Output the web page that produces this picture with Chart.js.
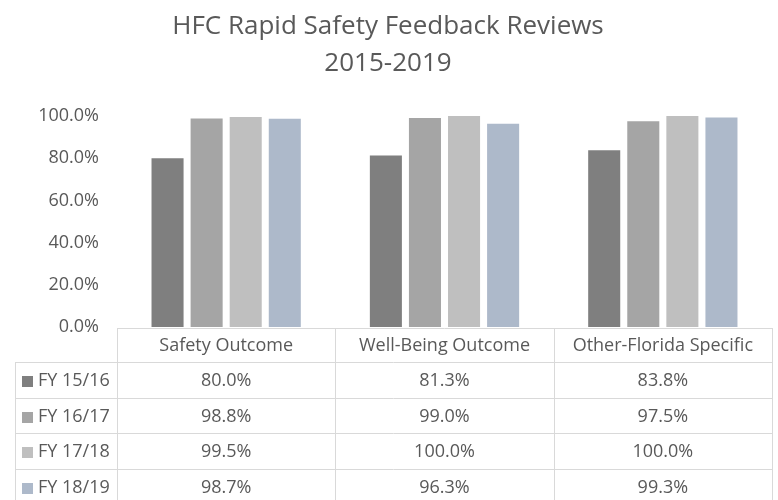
<!DOCTYPE html>
<html>
<head>
<meta charset="utf-8">
<script src="https://cdn.jsdelivr.net/npm/chart.js@4.4.1/dist/chart.umd.min.js"></script>
<style>
  html, body { margin: 0; padding: 0; background: #fff; }
  #wrap { width: 778px; height: 500px; position: relative; }
</style>
</head>
<body>
<div id="wrap"><canvas id="rsfChart" width="778" height="500"></canvas></div>
<script>
// chart data
const titleLines = ["HFC Rapid Safety Feedback Reviews", "2015-2019"];
const categories = ["Safety Outcome", "Well-Being Outcome", "Other-Florida Specific"];
const seriesNames = ["FY 15/16", "FY 16/17", "FY 17/18", "FY 18/19"];
const fy1516 = [80.0, 81.3, 83.8];
const fy1617 = [98.8, 99.0, 97.5];
const fy1718 = [99.5, 100.0, 100.0];
const fy1819 = [98.7, 96.3, 99.3];
const yTicks = [0, 20, 40, 60, 80, 100];

const seriesValues = [fy1516, fy1617, fy1718, fy1819];
const seriesColors = ["#7f7f7f", "#a5a5a5", "#bfbfbf", "#adb9ca"];
const textColor = "#595959";
const lineColor = "#d9d9d9";
const fontFamily = "'Open Sans', 'Noto Sans', sans-serif";

// title + data table under the plot
const tablePlugin = {
  id: "dataTable",
  afterDraw(chart) {
    const ctx = chart.ctx;
    const area = chart.chartArea;
    const xs = chart.scales.x;
    const top = area.bottom + 1;
    const headerH = 34;
    const rowH = 35.7;
    const legendLeft = 15;
    const left = area.left;
    const right = area.right;
    const colW = (right - left) / categories.length;

    ctx.save();

    // title
    ctx.fillStyle = textColor;
    ctx.textAlign = "center";
    ctx.textBaseline = "middle";
    ctx.font = "26px " + fontFamily;
    const cx = chart.width / 2 - 1;
    ctx.fillText(titleLines[0], cx, 27);
    ctx.fillText(titleLines[1], cx, 64);

    // grid lines
    ctx.strokeStyle = lineColor;
    ctx.lineWidth = 1;
    ctx.beginPath();
    ctx.moveTo(left, top + 0.5);
    ctx.lineTo(right, top + 0.5);
    for (let r = 0; r <= seriesNames.length; r++) {
      const y = Math.round(top + headerH + r * rowH) + 0.5;
      ctx.moveTo(legendLeft, y);
      ctx.lineTo(right, y);
    }
    const bottom = top + headerH + seriesNames.length * rowH;
    ctx.moveTo(legendLeft + 0.5, top + headerH);
    ctx.lineTo(legendLeft + 0.5, bottom);
    for (let c = 0; c <= categories.length; c++) {
      const x = Math.round(left + c * colW) + 0.5;
      ctx.moveTo(x, top);
      ctx.lineTo(x, bottom);
    }
    ctx.stroke();

    // header labels
    ctx.font = "18px " + fontFamily;
    ctx.fillStyle = textColor;
    ctx.textAlign = "center";
    categories.forEach((cat, i) => {
      ctx.fillText(cat, xs.getPixelForValue(i), top + headerH / 2 + 1);
    });

    // rows
    seriesNames.forEach((name, r) => {
      const yMid = top + headerH + r * rowH + rowH / 2 + 1;
      ctx.fillStyle = seriesColors[r];
      ctx.fillRect(legendLeft + 7, Math.round(yMid - 5), 11, 11);
      ctx.fillStyle = textColor;
      ctx.textAlign = "left";
      ctx.fillText(name, legendLeft + 23, yMid);
      ctx.textAlign = "center";
      seriesValues[r].forEach((v, i) => {
        ctx.fillText(v.toFixed(1) + "%", xs.getPixelForValue(i), yMid);
      });
    });

    ctx.restore();
  }
};

new Chart(document.getElementById("rsfChart"), {
  type: "bar",
  data: {
    labels: categories,
    datasets: seriesNames.map((name, i) => ({
      label: name,
      data: seriesValues[i],
      backgroundColor: seriesColors[i],
      borderWidth: 0,
      categoryPercentage: 0.716,
      barPercentage: 0.82,
    })),
  },
  options: {
    responsive: false,
    devicePixelRatio: 1,
    animation: false,
    layout: { padding: { left: 0, right: 6, top: 116, bottom: 173 } },
    plugins: {
      legend: { display: false },
      title: { display: false },
      tooltip: { enabled: false },
    },
    scales: {
      x: { display: false },
      y: {
        min: 0,
        max: 100,
        afterFit: (scale) => { scale.width = 117; },
        afterBuildTicks: (scale) => { scale.ticks = yTicks.map((v) => ({ value: v })); },
        grid: { display: false, drawTicks: false },
        border: { display: false },
        ticks: {
          padding: 18,
          color: textColor,
          font: { family: fontFamily, size: 18 },
          callback: (v) => v.toFixed(1) + "%",
        },
      },
    },
  },
  plugins: [tablePlugin],
});
</script>
</body>
</html>
